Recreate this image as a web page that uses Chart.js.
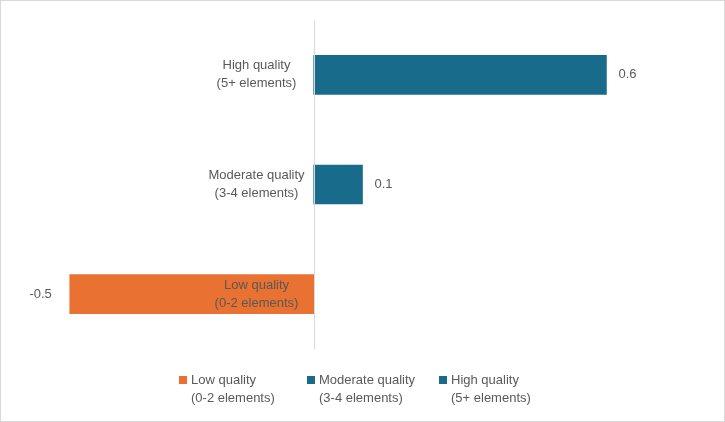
<!DOCTYPE html>
<html><head><meta charset="utf-8">
<script src="https://cdn.jsdelivr.net/npm/chart.js@4"></script>
<style>
html,body{margin:0;padding:0;background:#fff;}
#wrap{position:relative;width:723px;height:420px;border:1px solid #d9d9d9;}
canvas{position:absolute;left:0;top:0;}
.lg{position:absolute;top:370px;font:13px "Liberation Sans",Arial,sans-serif;color:#595959;line-height:18px;}
.lg span{position:absolute;left:-12px;top:5px;width:8px;height:8px;}
</style></head><body>
<div id="wrap"><canvas id="c" width="723" height="420"></canvas>
<div class="lg" style="left:190px"><span style="background:#E97132"></span>Low quality<br>(0-2 elements)</div>
<div class="lg" style="left:318px"><span style="background:#196B8C"></span>Moderate quality<br>(3-4 elements)</div>
<div class="lg" style="left:450px"><span style="background:#196B8C"></span>High quality<br>(5+ elements)</div>
</div>
<script>
const categories=[["High quality","(5+ elements)"],["Moderate quality","(3-4 elements)"],["Low quality","(0-2 elements)"]];
const seriesNames=["Low quality (0-2 elements)","Moderate quality (3-4 elements)","High quality (5+ elements)"];
const lowValues=[null,null,-0.5];
const moderateValues=[null,0.1,null];
const highValues=[0.6,null,null];
const colors=["#E97132","#196B8C","#196B8C"];
const overlay={id:'overlay',afterDatasetsDraw(ch){
  const c=ch.ctx,x=ch.scales.x,y=ch.scales.y,a=ch.chartArea;
  c.save();
  c.strokeStyle='#d9d9d9';c.lineWidth=1;
  const x0=Math.round(x.getPixelForValue(0))+0.5;
  c.beginPath();c.moveTo(x0,a.top);c.lineTo(x0,a.bottom);c.stroke();
  c.font='13px "Liberation Sans",Arial,sans-serif';c.fillStyle='#595959';c.textBaseline='middle';
  categories.forEach((lab,i)=>{const yp=y.getPixelForValue(i);
    c.textAlign='center';
    c.fillText(lab[0],x0-58,yp-9);c.fillText(lab[1],x0-58,yp+9);});
  [lowValues,moderateValues,highValues].forEach(arr=>arr.forEach((v,i)=>{if(v==null)return;
    const yp=y.getPixelForValue(i),xp=x.getPixelForValue(v);
    c.textAlign=v<0?'right':'left';
    c.fillText(String(v),v<0?xp-18:xp+12,yp);}));
  c.restore();}};
new Chart(document.getElementById('c'),{type:'bar',
 data:{labels:categories.map(l=>l.join(' ')),datasets:[
  {label:seriesNames[0],data:lowValues,backgroundColor:colors[0]},
  {label:seriesNames[1],data:moderateValues,backgroundColor:colors[1]},
  {label:seriesNames[2],data:highValues,backgroundColor:colors[2]}]},
 options:{indexAxis:'y',responsive:false,animation:false,
  layout:{padding:{left:20,right:20,top:19,bottom:72}},
  datasets:{bar:{barThickness:39}},
  plugins:{legend:{display:false},tooltip:{enabled:false}},
  scales:{x:{min:-0.6,max:0.8,display:false},y:{stacked:true,display:false}}},
 plugins:[overlay]});
</script></body></html>
